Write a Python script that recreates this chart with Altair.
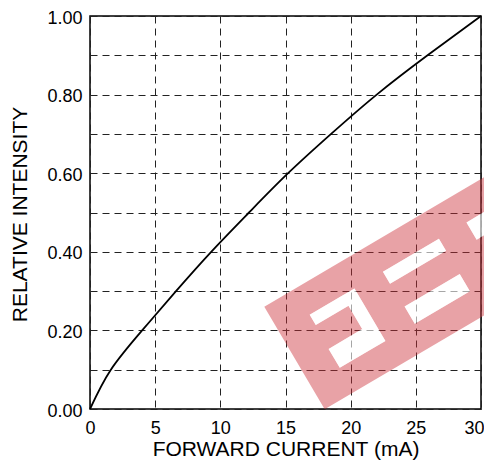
import altair as alt
import pandas as pd

# ---- data ----
current_ma = [0, 1.6, 4.0, 6.6, 9.3, 12.2, 15.2, 18.5, 22.0, 25.9, 30]
rel_intensity = [0, 0.10, 0.20, 0.30, 0.40, 0.50, 0.60, 0.70, 0.80, 0.90, 1.00]
x_ticks = [0, 5, 10, 15, 20, 25, 30]
y_ticks = [0.0, 0.1, 0.2, 0.3, 0.4, 0.5, 0.6, 0.7, 0.8, 0.9, 1.0]

x_title = "FORWARD CURRENT (mA)"
y_title = "RELATIVE INTENSITY"

# ---- watermark geometry (band-local pixel units: u along band, v across) ----
band_rect = (0, 330, 0, 119)
hole_rects = [
    (35, 73, 30, 42),
    (73, 87, 30, 91),
    (34, 73, 69, 91),
    (120, 185, 30, 44),
    (121, 185, 71, 91),
    (217, 270, 30, 50),
]


def rect_cw(r):
    u0, u1, v0, v1 = r
    return f"M{u0},{v0}L{u1},{v0}L{u1},{v1}L{u0},{v1}Z"


def rect_ccw(r):
    u0, u1, v0, v1 = r
    return f"M{u0},{v0}L{u0},{v1}L{u1},{v1}L{u1},{v0}Z"


band_path = rect_cw(band_rect) + "".join(rect_ccw(r) for r in hole_rects)
holes_path = "".join(rect_cw(r) for r in hole_rects)

W, H = 391, 393
FONT = "Liberation Sans"

df = pd.DataFrame({"current": current_ma, "intensity": rel_intensity})
one = pd.DataFrame({"k": [0]})

curve = alt.Chart(df).mark_line(
    color="black", strokeWidth=1.8, interpolate="natural"
).encode(
    x=alt.X(
        "current:Q",
        scale=alt.Scale(domain=[0, 30], nice=False, zero=False),
        axis=alt.Axis(
            values=x_ticks,
            title=x_title,
            format="d",
            labelFontSize=18,
            labelPadding=24,
            labelBaseline="alphabetic",
            labelFlush=False,
            labelAlign={"condition": {"test": "datum.value >= 30", "value": "right"}, "value": "center"},
            labelOffset={"condition": {"test": "datum.value >= 30", "value": 3}, "value": 0},
            titleFontSize=21,
            titleFontWeight="normal",
            titleY=46,
            titleBaseline="alphabetic",
        ),
    ),
    y=alt.Y(
        "intensity:Q",
        scale=alt.Scale(domain=[0, 1], nice=False),
        axis=alt.Axis(
            values=y_ticks,
            title=y_title,
            labelExpr="round(datum.value*10)%2==0 ? format(datum.value,'.2f') : ''",
            labelFontSize=18,
            labelPadding=8,
            labelBaseline="alphabetic",
            labelOffset=7,
            labelFlush=False,
            titleFontSize=21,
            titleFontWeight="normal",
            titleX=-64,
            titleY=198,
            titleAlign="center",
            titleBaseline="alphabetic",
        ),
    ),
)

wm_band = alt.Chart(one).mark_point(
    shape=band_path,
    size=4,
    filled=True,
    fill="#cc3039",
    fillOpacity=0.45,
    opacity=1,
    strokeWidth=0,
    angle=329.5,
).encode(x=alt.value(174.3), y=alt.value(290.7))

wm_holes = alt.Chart(one).mark_point(
    shape=holes_path,
    size=4,
    filled=True,
    fill="white",
    fillOpacity=0.6,
    opacity=1,
    strokeWidth=0,
    angle=329.5,
).encode(x=alt.value(174.3), y=alt.value(290.7))

chart = (
    alt.layer(curve, wm_band, wm_holes)
    .properties(
        width=W,
        height=H,
        autosize=alt.AutoSizeParams(type="none"),
        padding={"left": 82, "top": 8, "right": 3, "bottom": 52},
    )
    .configure(font=FONT)
    .configure_view(stroke="black", strokeWidth=1.5)
    .configure_axis(
        domain=False,
        ticks=False,
        grid=True,
        gridColor="#222222",
        gridWidth=1,
        gridDash=[7, 5],
        labelColor="black",
        titleColor="black",
        labelFont=FONT,
        titleFont=FONT,
    )
)

chart.save("out.html", embed_options={"renderer": "svg", "actions": False})
